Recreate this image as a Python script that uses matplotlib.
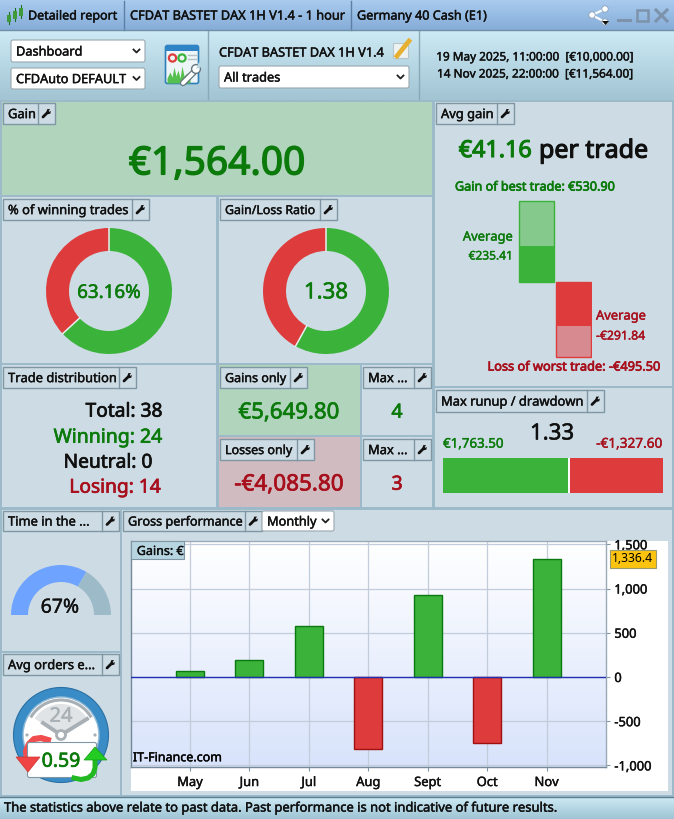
#!/usr/bin/env python3
"""Trading report dashboard: donuts, gauge, gain bars and monthly performance."""

import numpy as np
import matplotlib
matplotlib.use('Agg')
import matplotlib.pyplot as plt
import matplotlib.patheffects as pe
from matplotlib.patches import Rectangle, FancyBboxPatch, Circle, Arc, Polygon, Wedge

W, H = 674, 819

# data
months = ['May', 'Jun', 'Jul', 'Aug', 'Sept', 'Oct', 'Nov']
monthly_gain = [70, 195, 580, -815, 925, -745, 1336.4]
yticks = [-1000, -500, 0, 500, 1000, 1500]

win_split = [63.16, 36.84]
ratio_split = [5649.80, 4085.80]
time_split = [67, 33]

best_trade, avg_win = 530.90, 235.41
worst_trade, avg_loss = -495.50, -291.84
max_runup, max_drawdown = 1763.50, 1327.60

GREEN, RED = '#3bb33b', '#de3c3c'
DKGREEN, DKRED = '#0b7a0b', '#a80f1c'
PANEL = '#cddce4'
SEP = '#9dbacb'
EDGE = '#7f97a5'

plt.rcParams['font.family'] = ['Noto Sans', 'DejaVu Sans']
plt.rcParams['font.size'] = 9

fig = plt.figure(figsize=(W / 100, H / 100), dpi=100, facecolor=SEP)
ui = fig.add_axes([0, 0, 1, 1], zorder=0)
ui.set_xlim(0, W)
ui.set_ylim(H, 0)
ui.axis('off')


def px_axes(l, t, r, b, zorder=2):
    ax = fig.add_axes([l / W, 1 - b / H, (r - l) / W, (b - t) / H], zorder=zorder)
    return ax


def heavy(color, lw=0.3):
    # reference text is rendered darker than agg does, fatten it a little
    return [pe.withStroke(linewidth=lw, foreground=color)]


def box(x0, y0, x1, y1, fc, ec='none', lw=0.8, z=1):
    ui.add_patch(Rectangle((x0, y0), x1 - x0, y1 - y0, fc=fc, ec=ec, lw=lw, zorder=z))


def grad(x0, y0, x1, y1, c0, c1, z=1):
    c0 = np.array(matplotlib.colors.to_rgb(c0))
    c1 = np.array(matplotlib.colors.to_rgb(c1))
    t = np.linspace(0, 1, 64)[:, None, None]
    img = c0[None, None, :] * (1 - t) + c1[None, None, :] * t
    ui.imshow(img, extent=(x0, x1, y1, y0), aspect='auto', zorder=z, interpolation='bilinear')
    ui.set_xlim(0, W)
    ui.set_ylim(H, 0)


def txt(x, y, s, size=9, color='#101010', ha='center', stroke=0.3, z=6):
    ui.text(x, y + size * 0.12, s, fontsize=size, color=color, ha=ha, va='center', zorder=z,
            path_effects=heavy(color, stroke))


def wrench(cx, cy, z=5):
    ui.plot([cx - 3.5, cx + 1], [cy + 3.5, cy - 1], color='#111111', lw=2, zorder=z,
            solid_capstyle='round')
    ui.add_patch(Polygon([(cx, cy - 2), (cx + 0.8, cy - 4.4), (cx + 3.6, cy - 4.4), (cx + 2.2, cy - 2.6),
                          (cx + 2.8, cy - 1.6), (cx + 4.4, cy - 2.6), (cx + 3.8, cy + 0.2),
                          (cx + 1, cy + 0.8)], fc='#111111', ec='none', zorder=z))


def header(x0, x1, y0, y1, label, size=9.3):
    box(x0, y0, x1, y1, PANEL, EDGE, 1.0, z=3)
    ui.plot([x1 - 17, x1 - 17], [y0, y1], color=EDGE, lw=1.0, zorder=4)
    txt(x0 + 5, (y0 + y1) / 2, label, size=size, ha='left')
    wrench(x1 - 8.5, (y0 + y1) / 2)


def chevron(cx, cy):
    ui.plot([cx - 3, cx, cx + 3], [cy - 1.5, cy + 1.5, cy - 1.5], color='#222222', lw=1.3, zorder=6)


def combo(x0, x1, y0, y1, label):
    ui.add_patch(FancyBboxPatch((x0 + 1, y0 + 1), x1 - x0 - 2, y1 - y0 - 2,
                                boxstyle='round,pad=1,rounding_size=2', fc='white',
                                ec='#9aa8b0', lw=0.8, zorder=4))
    txt(x0 + 5, (y0 + y1) / 2, label, size=9.2, ha='left')
    chevron(x1 - 8.5, (y0 + y1) / 2)


# title bar and toolbar
grad(0, 0, W, 30, '#a8cbee', '#86add9')
grad(0, 30, W, 100, '#cdeaf5', '#a2c4d3')
for x in [124, 351]:
    ui.plot([x, x], [1, 30], color='#5d7fa6', lw=1, zorder=3)
for x in [208, 419]:
    ui.plot([x, x], [30, 99], color='#8aa9b8', lw=1, zorder=3)
ui.plot([0, W], [30, 30], color='#6f8fa5', lw=1, zorder=3)
txt(28, 15, 'Detailed report', ha='left')
txt(130, 15, 'CFDAT BASTET DAX 1H V1.4 - 1 hour', size=9.2, ha='left')
txt(357, 15, 'Germany 40 Cash (E1)', size=9.1, ha='left')

# candlestick icon
for x, y0, y1 in [(9, 15, 22), (15, 11, 19), (21, 8, 16)]:
    ui.plot([x, x], [y0 - 3, y1 + 2], color='#1d6e20', lw=0.8, zorder=3)
    box(x - 2, y0, x + 2, y1, '#3f9a3a', z=4)

# share and window buttons
pts = [(592, 15), (605, 9), (605, 22)]
ui.plot([pts[1][0], pts[0][0], pts[2][0]], [pts[1][1], pts[0][1], pts[2][1]], color='white', lw=1.5, zorder=3)
for p in pts:
    ui.add_patch(Circle(p, 3.2, fc='white', ec='#8aa0b8', lw=0.6, zorder=4))
ui.add_patch(Polygon([(602, 21), (609, 21), (605.5, 25)], fc='#111111', zorder=5))
ui.plot([618, 630], [20, 20], color='#7d93ab', lw=2.2, zorder=3)
ui.add_patch(Rectangle((637, 10), 11, 11, fc='none', ec='#7d93ab', lw=1.8, zorder=3))
ui.plot([656, 667], [10, 21], color='#7d93ab', lw=2.2, zorder=3)
ui.plot([656, 667], [21, 10], color='#7d93ab', lw=2.2, zorder=3)

combo(11, 145, 40, 62, 'Dashboard')
combo(11, 145, 68, 89, 'CFDAuto DEFAULT')
combo(219, 409, 66, 88, 'All trades')
txt(219, 52, 'CFDAT BASTET DAX 1H V1.4', size=9.2, ha='left')
txt(536, 56, '19 May 2025, 11:00:00  [€10,000.00]', size=8.5)
txt(536, 73, '14 Nov 2025, 22:00:00  [€11,564.00]', size=8.5)

# report settings icon
ui.add_patch(FancyBboxPatch((166, 46), 32, 37, boxstyle='round,pad=0.5,rounding_size=2',
                            fc='#eef5f8', ec='#2f7fb8', lw=1.2, zorder=3))
box(166, 45, 198, 51, '#2e83c6', z=4)
ui.add_patch(Circle((172.5, 58), 3.6, fc='none', ec=RED, lw=1.6, zorder=5))
ui.add_patch(Circle((182, 58), 3.6, fc='none', ec=GREEN, lw=1.6, zorder=5))
ui.plot([188, 196], [55, 55], color='#b7c2c8', lw=1, zorder=5)
ui.plot([188, 196], [59, 59], color='#b7c2c8', lw=1, zorder=5)
ui.fill_between([167, 170, 172, 174, 176, 178, 180, 182, 184, 187, 190],
                [83] * 11, [78, 72, 77, 67, 76, 70, 78, 66, 76, 73, 78],
                color='#55c04f', zorder=5, lw=0)
ui.plot([183, 195], [83, 71], color='#66757d', lw=4.6, zorder=6, solid_capstyle='round')
ui.plot([183, 195], [83, 71], color='white', lw=2.8, zorder=7, solid_capstyle='round')
ui.add_patch(Circle((196, 69), 4.4, fc='white', ec='#66757d', lw=1, zorder=7))
ui.add_patch(Polygon([(196, 69), (199, 62), (204, 66)], fc='#b7d7e4', ec='none', zorder=8))

# pencil button
box(393, 43, 408, 58, '#eef2f2', '#b7c4ca', z=3)
ui.plot([397, 409], [56, 41], color='#e6b133', lw=3.4, zorder=4)

# panels
for x0, y0, x1, y1, c in [
    (2, 102, 432, 195, '#b1d4bd'), (2, 197, 216, 363, PANEL), (219, 197, 432, 363, PANEL),
    (2, 365, 216, 507, PANEL), (219, 365, 360, 435, '#b1d4bd'), (362, 365, 432, 435, PANEL),
    (219, 437, 360, 507, '#d0bcc0'), (362, 437, 432, 507, PANEL), (435, 102, 672, 386, PANEL),
    (435, 388, 672, 507, PANEL), (2, 510, 120, 651, PANEL), (2, 653, 120, 795, PANEL),
    (122, 510, 672, 795, PANEL),
]:
    box(x0, y0, x1, y1, c)

header(3, 55, 103, 124, 'Gain')
header(436, 514, 103, 124, 'Avg gain')
header(3, 149, 199, 220, '% of winning trades')
header(220, 337, 199, 220, 'Gain/Loss Ratio', size=8.9)
header(3, 136, 367, 388, 'Trade distribution')
header(220, 307, 367, 388, 'Gains only', size=9)
header(363, 431, 367, 388, 'Max ...')
header(220, 314, 439, 460, 'Losses only', size=9)
header(363, 431, 439, 460, 'Max ...')
header(436, 604, 390, 412, 'Max runup / drawdown')
header(3, 119, 511, 531, 'Time in the ...')
header(3, 119, 654, 675, 'Avg orders e...')
header(123, 262, 511, 531, 'Gross performance', size=9.1)
combo(262, 334, 511, 531, 'Monthly')

txt(217, 161, '€1,564.00', size=28, color=DKGREEN, stroke=1.0)
txt(532, 149, '€41.16', size=16.8, color=DKGREEN, ha='right', stroke=0.8)
txt(539, 149, 'per trade', size=18, ha='left', stroke=0.8)
txt(535, 186, 'Gain of best trade: €530.90', size=9.1, color=DKGREEN, stroke=0.5)
txt(513, 236, 'Average', size=9.3, color=DKGREEN, ha='right')
txt(513, 255, '€235.41', size=8.6, color=DKGREEN, ha='right')
txt(596, 315, 'Average', size=9.3, color=DKRED, ha='left')
txt(596, 335, '-€291.84', size=8.8, color=DKRED, ha='left')
txt(574, 366, 'Loss of worst trade: -€495.50', size=9.2, color=DKRED, stroke=0.5)
txt(552, 432, '1.33', size=16, stroke=0.4)
txt(443, 443, '€1,763.50', size=9.6, color=DKGREEN, ha='left')
txt(662, 443, '-€1,327.60', size=9.8, color=DKRED, ha='right')

txt(124, 410, 'Total: 38', size=13.8, stroke=0.5)
txt(108, 436, 'Winning: 24', size=14, color=DKGREEN, stroke=0.5)
txt(108, 461, 'Neutral: 0', size=13.8, stroke=0.5)
txt(115, 486, 'Losing: 14', size=13.8, color=DKRED, stroke=0.5)
txt(289, 411, '€5,649.80', size=16, color=DKGREEN, stroke=0.5)
txt(289, 483, '-€4,085.80', size=16.2, color=DKRED, stroke=0.5)
txt(397, 411, '4', size=14, color=DKGREEN, stroke=0.5)
txt(397, 483, '3', size=14, color=DKRED, stroke=0.5)

# donuts
for cx, split, label, fs in [(109, win_split, '63.16%', 13.5), (326, ratio_split, '1.38', 16)]:
    ax = px_axes(cx - 64, 227, cx + 64, 355)
    ax.pie(split, colors=[GREEN, RED], startangle=90, counterclock=False, radius=1,
           wedgeprops=dict(width=0.365, edgecolor='none'))
    for a in np.pi / 2 - 2 * np.pi * np.cumsum([0] + split[:1]) / sum(split):
        ax.plot([0.63 * np.cos(a), np.cos(a)], [0.63 * np.sin(a), np.sin(a)], color='#e8eef0', lw=1.1)
    ax.set_xlim(-64 / 63, 64 / 63)
    ax.set_ylim(-64 / 63, 64 / 63)
    ax.text(0, -0.03, label, ha='center', va='center', fontsize=fs, color=DKGREEN,
            path_effects=heavy(DKGREEN, 0.4))

# average gain bars
gain_ax = px_axes(518, 196, 592, 360)
gain_ax.axis('off')
scale = 80.7 / best_trade
gain_ax.set_xlim(-0.5, 1.5)
gain_ax.set_ylim(-(360 - 281.5) / scale, (281.5 - 196) / scale)
gain_ax.bar(0, best_trade, width=0.96, color='#86c98c', edgecolor=GREEN, linewidth=1)
gain_ax.bar(0, avg_win, width=0.96, color=GREEN)
gain_ax.bar(1, worst_trade, width=0.96, color='#d78b90', edgecolor=RED, linewidth=1)
gain_ax.bar(1, avg_loss, width=0.96, color=RED)

# runup / drawdown bar
run_ax = px_axes(443, 458, 663, 493)
run_ax.axis('off')
run_ax.set_xlim(0, max_runup + max_drawdown)
run_ax.set_ylim(-0.5, 0.5)
run_ax.barh(0, max_runup, height=1, color=GREEN)
run_ax.barh(0, max_drawdown, left=max_runup, height=1, color=RED)
run_ax.axvline(max_runup, color='white', lw=1.4)

# time in the market gauge
g_ax = px_axes(11, 565, 111, 665)
g_ax.pie(time_split + [sum(time_split)], colors=['#6ea3ff', '#9dbac8', 'none'], startangle=180,
         counterclock=False, radius=1, wedgeprops=dict(width=0.34, edgecolor='none'))
g_ax.set_xlim(-1, 1)
g_ax.set_ylim(-1, 1)
txt(60, 606, '67%', size=14, z=7)

# clock icon
ui.add_patch(Circle((61, 735), 47.5, fc='#3a8cc6', ec='#2a70a4', lw=0.8, zorder=3))
ui.add_patch(Circle((61, 735), 38, fc='white', ec='#8fb9d6', lw=1, zorder=4))
ui.add_patch(Wedge((61, 735), 31, 212, 328, fc='#e1e4e6', ec='none', zorder=4))
ui.add_patch(Arc((61, 735), 70, 70, theta1=210, theta2=330, color='#a8b0b6', lw=2.2, zorder=5))
txt(61, 715, '24', size=14.5, color='#a9b1b7', z=5)
ui.plot([43, 61, 87], [723, 735, 719], color='#a8b0b6', lw=2.8, zorder=5)
ui.add_patch(Circle((61, 735), 4.5, fc='white', ec='#a8b0b6', lw=2, zorder=6))
ui.add_patch(Circle((27, 735), 1.6, fc='#a8b0b6', zorder=5))
ui.add_patch(Circle((95, 735), 1.6, fc='#a8b0b6', zorder=5))
ui.plot([48, 41, 34, 29, 26, 27], [740, 738, 739, 744, 751, 760], color='#f04e4e', lw=4.4, zorder=6,
        solid_joinstyle='round')
ui.add_patch(FancyBboxPatch((28, 743), 68, 34, boxstyle='round,pad=0.5,rounding_size=2', fc='white',
                            ec='#7f97a5', lw=0.8, zorder=7))
ui.add_patch(Polygon([(16, 757), (40, 757), (28, 772)], fc='#ee4444', ec='#d03434', lw=0.5, zorder=8))
ui.plot([74, 81, 88, 93, 95, 95], [778, 779.5, 778, 774, 768, 760], color='#22b822', lw=3.6, zorder=8,
        solid_joinstyle='round')
ui.add_patch(Polygon([(84, 760), (107, 760), (95, 747)], fc='#22cc22', ec='#149c14', lw=0.5, zorder=8))
txt(61, 760, '0.59', size=14, color=DKGREEN, stroke=0.5, z=9)

# monthly gross performance
box(131, 541, 668, 791, 'white', z=1.5)
perf = px_axes(131, 541, 606, 767, zorder=3)
perf.imshow(np.linspace(0, 1, 64)[:, None], extent=(-0.993, 7.0, -1018, 1538), aspect='auto',
            cmap=matplotlib.colors.LinearSegmentedColormap.from_list('bg', ['#ffffff', '#d8e3fb']),
            zorder=0)
x = np.arange(len(months))
colors = [GREEN if v >= 0 else RED for v in monthly_gain]
edges = ['#0a7a10' if v >= 0 else '#a01010' for v in monthly_gain]
perf.bar(x, monthly_gain, width=0.47, color=colors, edgecolor=edges, linewidth=1, zorder=3)
perf.axhline(0, color='#2030b0', lw=1, zorder=4)
perf.set_xlim(-0.993, 7.0)
perf.set_ylim(-1018, 1538)
perf.set_xticks(x)
perf.set_xticklabels(months, fontsize=9.3, path_effects=heavy('#101010'))
perf.set_yticks(yticks)
perf.set_yticklabels([f'{v:,}' for v in yticks], fontsize=9.3, path_effects=heavy('#101010'))
perf.yaxis.tick_right()
perf.tick_params(axis='both', length=3, color=EDGE, labelcolor='#101010', pad=3)
perf.tick_params(axis='x', pad=3.5)
perf.grid(True, color='#c2ccdb', lw=0.9, zorder=1)
perf.set_axisbelow(True)
for s in perf.spines.values():
    s.set_color('#74899a')
    s.set_linewidth(1.0)
perf.spines['top'].set_color('#9aa9b8')
perf.spines['right'].set_color('#9aa9b8')
perf.text(0.004, 0.012, 'IT-Finance.com', transform=perf.transAxes, fontsize=9, va='bottom',
          ha='left', zorder=6, path_effects=heavy('#101010'))
perf.text(-0.895, 1420, 'Gains: €', fontsize=9, va='center', ha='left', zorder=8, color='#101010',
          path_effects=heavy('#101010'))
perf.add_patch(Rectangle((-0.993, 1335), 0.89, 203, fc='#b7d5e1', ec=EDGE, lw=0.8, zorder=7))
flag = perf.annotate('1,336.4', xy=(1.0, monthly_gain[-1]), xycoords=('axes fraction', 'data'),
                     xytext=(4.5, 0), textcoords='offset points', fontsize=8.8, va='center', ha='left',
                     annotation_clip=False, zorder=8,
                     bbox=dict(boxstyle='square,pad=0.2', fc='#fcc40f', ec='#9a9a70', lw=0.8))

# status bar
grad(0, 797, W, 819, '#cdeaf5', '#9fc4d4')
ui.plot([0, W], [797, 797], color='#5e7f90', lw=1, zorder=3)
txt(4, 807, 'The statistics above relate to past data. Past performance is not indicative of future results.',
    size=9.35, ha='left')

fig.savefig('out.png', dpi=100, facecolor=fig.get_facecolor())
